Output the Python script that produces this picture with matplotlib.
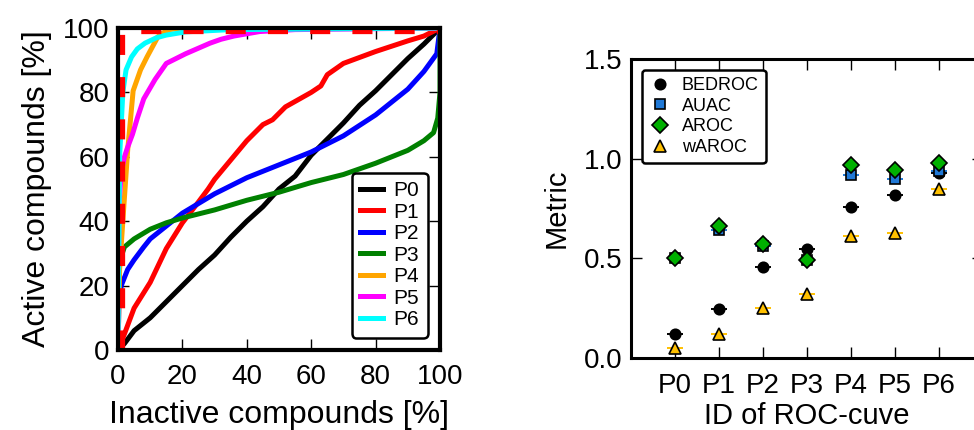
import matplotlib
matplotlib.use("Agg")
import matplotlib.pyplot as plt
from matplotlib.lines import Line2D
import numpy as np

plt.rcParams['font.family'] = ['Liberation Sans', 'DejaVu Sans']

# ---------------- ROC curve data (inactive %, active %) ----------------
p0_x = [0, 2, 5, 10, 15, 20, 25, 30, 35, 40, 45, 50, 55, 60, 65, 70, 75, 80, 85, 90, 95, 100]
p0_y = [0, 2, 6, 10, 15, 20, 25, 29.5, 35, 40, 44.5, 50, 54, 60.5, 65.5, 70.5, 76, 80.5, 85.5, 90.5, 95, 100]

p1_x = [0, 2, 5, 10, 15, 20, 25, 28, 30, 35, 40, 45, 48, 50, 52, 60, 63, 65, 70, 80, 90, 95, 100]
p1_y = [0, 5, 13, 21, 31.5, 39.5, 46, 50, 53, 59, 65, 70, 71.5, 73.5, 75.5, 80, 82, 85.5, 89, 92.7, 96, 97.5, 100]

p2_x = [0, 0.3, 1, 3, 5, 8, 10, 15, 20, 25, 30, 40, 50, 60, 70, 80, 85, 90, 95, 99, 100]
p2_y = [0, 15, 20, 25, 28, 32, 34.5, 38.5, 42.5, 45.5, 48.5, 53.5, 57.5, 61.5, 66.5, 73, 77, 81, 86.5, 92, 100]

p3_x = [0, 0.3, 2, 5, 10, 15, 20, 30, 40, 50, 60, 70, 80, 90, 95, 98, 99.3, 100, 100]
p3_y = [0, 27, 32, 34.5, 37.5, 39.5, 41, 43.5, 46.5, 49, 52, 54.5, 58, 62, 65, 67.5, 72, 80, 100]

p4_x = [0, 0.5, 1.5, 3, 4.7, 7, 9, 12.4, 14, 16, 20, 100]
p4_y = [0, 25, 40, 62, 80.5, 87, 91, 97.3, 98.5, 99.5, 100, 100]

p5_x = [0, 0.3, 1, 2, 3, 4.5, 6, 8, 11.5, 15, 21, 28.6, 32, 36, 44, 55, 100]
p5_y = [0, 45, 55, 60, 63, 67, 72, 78, 84, 89, 92, 95.3, 96.5, 97.5, 98.9, 99.5, 100]

p6_x = [0, 0.5, 1.5, 2.5, 4.2, 6, 8.4, 12, 15, 21, 35, 100]
p6_y = [0, 60, 80, 87, 91, 93.5, 95.3, 97, 97.8, 98.8, 99.5, 100]

perfect_x = [1.2, 1.2, 100]
perfect_y = [0, 99.1, 99.1]

roc_labels = ['P0', 'P1', 'P2', 'P3', 'P4', 'P5', 'P6']
roc_colors = ['black', 'red', 'blue', 'green', 'orange', 'magenta', 'cyan']

# ---------------- Metric data ----------------
curve_ids = ['P0', 'P1', 'P2', 'P3', 'P4', 'P5', 'P6']
bedroc = [0.12, 0.248, 0.457, 0.548, 0.757, 0.818, 0.93]
auac = [0.50, 0.64, 0.56, 0.49, 0.918, 0.898, 0.94]
aroc = [0.50, 0.66, 0.573, 0.49, 0.968, 0.943, 0.978]
waroc = [0.052, 0.12, 0.252, 0.32, 0.61, 0.628, 0.847]
metric_names = ['BEDROC', 'AUAC', 'AROC', 'wAROC']

fig = plt.figure(figsize=(9.74, 4.30), dpi=100)
W, H = 974.0, 430.0

# ---------------- Left panel ----------------
ax1 = fig.add_axes([118 / W, (H - 350) / H, 322 / W, 322 / H])
curves = [(p0_x, p0_y), (p1_x, p1_y), (p2_x, p2_y), (p3_x, p3_y),
          (p4_x, p4_y), (p5_x, p5_y), (p6_x, p6_y)]
for (xs, ys), lab, col in zip(curves, roc_labels, roc_colors):
    ax1.plot(xs, ys, color=col, lw=3.6, label=lab, solid_joinstyle='round')
ax1.plot(perfect_x, perfect_y, color='red', lw=3.8, ls=(0, (3.8, 4.2)), zorder=2.2)
ax1.set_xlim(0, 100)
ax1.set_ylim(0, 100)
ax1.set_xticks([0, 20, 40, 60, 80, 100])
ax1.set_yticks([0, 20, 40, 60, 80, 100])
ax1.tick_params(direction='in', length=8, width=1, top=True, right=True,
                labelsize=20)
ax1.tick_params(axis='x', pad=10)
ax1.tick_params(axis='y', pad=6)
for s in ax1.spines.values():
    s.set_linewidth(3)
ax1.set_xlabel('Inactive compounds [%]', fontsize=23, labelpad=7)
ax1.set_ylabel('Active compounds [%]', fontsize=23, labelpad=8)
leg1 = ax1.legend(loc='lower right', fontsize=15, frameon=True, fancybox=True,
                  handlelength=1.1, handletextpad=0.5, labelspacing=0.12,
                  borderpad=0.4, borderaxespad=0.6)
leg1.get_frame().set_edgecolor('black')
leg1.get_frame().set_linewidth(1.8)
leg1.get_frame().set_alpha(1)

# ---------------- Right panel ----------------
ax2 = fig.add_axes([631 / W, (H - 358) / H, 352 / W, 299 / H])
xpos = np.arange(len(curve_ids))
series = [
    (bedroc, 'o', 'black', 'black', 7.5),
    (auac, 's', '#1f78d6', '#1f78d6', 7.5),
    (aroc, 'D', '#00b000', 'none', 8.5),
    (waroc, '^', '#ffc000', '#ffc000', 8),
]
handles = []
for (vals, mk, col, ecol, ms), lab in zip(series, metric_names):
    cap_col = ecol if ecol != 'none' else col
    ax2.errorbar(xpos, vals, yerr=np.zeros(len(vals)), fmt=mk, color=col,
                 mfc=col, mec='black', mew=1.2, ms=ms, ecolor=cap_col,
                 capsize=6, capthick=1.5, elinewidth=0)
    handles.append(Line2D([], [], ls='none', marker=mk, mfc=col, mec='black',
                          mew=1.2, ms=ms, label=lab))
ax2.set_xlim(-1, 7)
ax2.set_ylim(0, 1.5)
ax2.set_xticks(xpos)
ax2.set_xticklabels(curve_ids)
ax2.set_yticks([0.0, 0.5, 1.0, 1.5])
ax2.set_yticklabels(['0.0', '0.5', '1.0', '1.5'])
ax2.tick_params(direction='in', length=8, width=1, top=True, right=True,
                labelsize=20)
ax2.tick_params(axis='x', pad=11)
ax2.tick_params(axis='y', pad=6)
for s in ax2.spines.values():
    s.set_linewidth(2.2)
ax2.set_xlabel('ID of ROC-cuve', fontsize=21, labelpad=2)
ax2.set_ylabel('Metric', fontsize=21, labelpad=10)
leg2 = ax2.legend(handles=handles, loc='upper left', fontsize=13, frameon=True,
                  fancybox=True, numpoints=1, handlelength=1.2,
                  handletextpad=0.6, labelspacing=0.2, borderpad=0.4,
                  borderaxespad=0.6)
leg2.get_frame().set_edgecolor('black')
leg2.get_frame().set_linewidth(1.8)
leg2.get_frame().set_alpha(1)

fig.savefig('out.png', dpi=100)
